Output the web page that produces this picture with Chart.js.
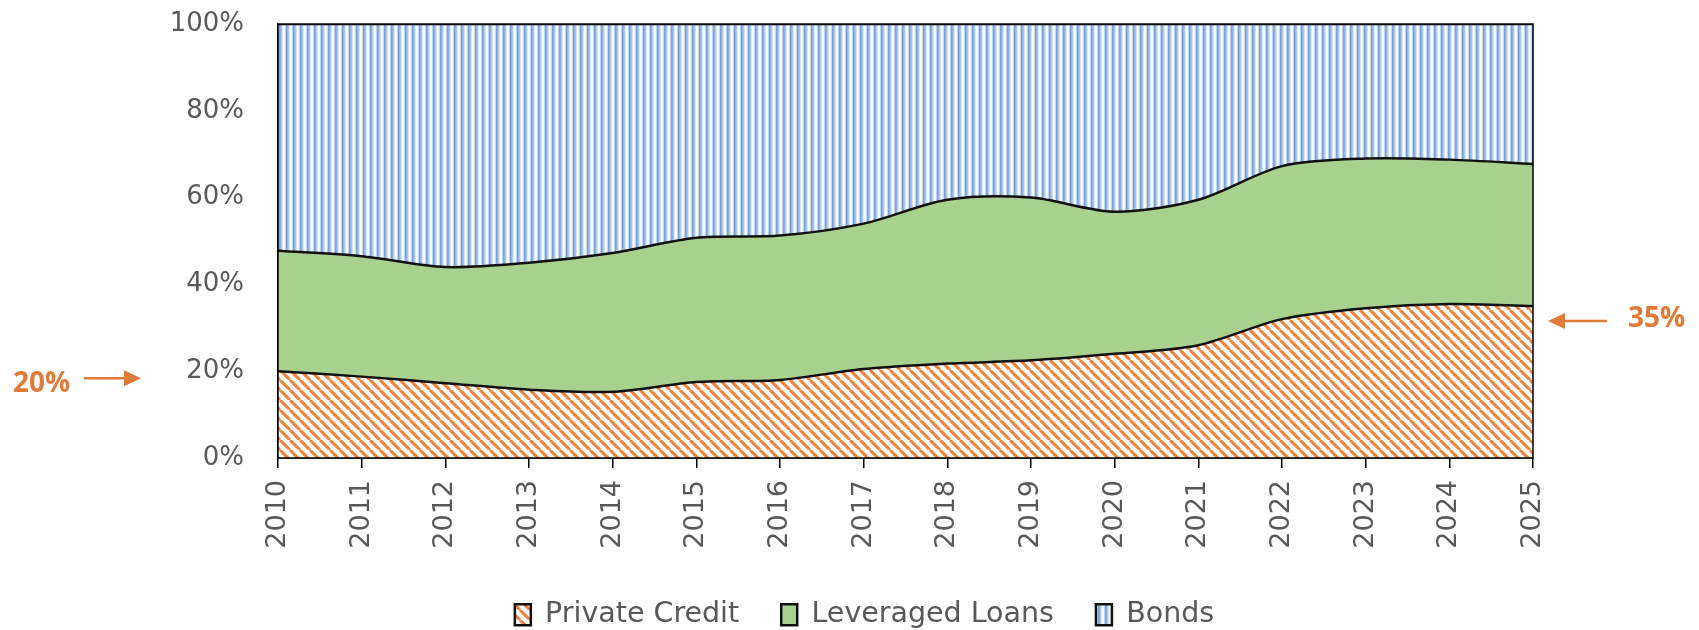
<!DOCTYPE html>
<html>
<head>
<meta charset="utf-8">
<script src="https://cdn.jsdelivr.net/npm/chart.js@4/dist/chart.umd.min.js"></script>
<style>
  html, body { margin: 0; padding: 0; background: #fff; }
  #wrap { width: 1699px; height: 630px; }
</style>
</head>
<body>
<div id="wrap"><canvas id="mixChart" width="1699" height="630"></canvas></div>
<script>
// share of each segment, per year (percent, stacked to 100)
const years = ['2010','2011','2012','2013','2014','2015','2016','2017','2018','2019','2020','2021','2022','2023','2024','2025'];
const privateCredit  = [20, 18.75, 17.25, 15.75, 15.25, 17.5, 18, 20.5, 21.75, 22.5, 24, 26, 32, 34.5, 35.5, 35];
const leveragedLoans = [27.75, 27.75, 26.75, 29.25, 32, 33.25, 33.25, 33.5, 37.75, 37.5, 32.75, 33.5, 35.25, 34.5, 33.25, 32.75];
const bonds          = [52.25, 53.5, 56, 55, 52.75, 49.25, 48.75, 46, 40.5, 40, 43.25, 40.5, 32.75, 31, 31.25, 32.25];
const yTicks = [0, 20, 40, 60, 80, 100];

const orange = '#E07B39';
const axisGrey = '#595959';

function makePattern(w, h, paint) {
  const c = document.createElement('canvas');
  c.width = w; c.height = h;
  const g = c.getContext('2d');
  paint(g, w, h);
  return g.createPattern(c, 'repeat');
}

// orange "\" hatching on white
const hatch = makePattern(10, 10, (g, w, h) => {
  g.fillStyle = '#fff';
  g.fillRect(0, 0, w, h);
  g.strokeStyle = '#EE8640';
  g.lineWidth = 3.1;
  for (const x0 of [-w, 0, w]) {
    g.beginPath();
    g.moveTo(x0, 0);
    g.lineTo(x0 + w, h);
    g.stroke();
  }
});

// vertical blue stripes
const stripes = makePattern(7, 1, (g) => {
  const cols = ['#8FB4E3', '#A9CBEE', '#D6E7F9', '#FFFFFF', '#F5F9FE', '#C0D9F3', '#7FA3D0'];
  cols.forEach((c, i) => { g.fillStyle = c; g.fillRect(i, 0, 1, 1); });
});

const frame = {
  id: 'frame',
  afterInit(chart) {
    // pull the legend row a little lower
    const lg = chart.legend;
    if (lg && !lg._shifted) {
      const fit = lg.fit;
      lg.fit = function () { fit.call(this); this.height -= 9; };
      lg._shifted = true;
    }
  },
  afterDatasetsDraw(chart) {
    const { ctx, chartArea: a } = chart;
    ctx.save();
    ctx.strokeStyle = '#000';
    ctx.lineWidth = 1.5;
    ctx.strokeRect(a.left, a.top, a.right - a.left, a.bottom - a.top);
    ctx.restore();
  }
};

// callouts for the first and last private credit share
const callouts = {
  id: 'callouts',
  afterDraw(chart) {
    const { ctx, chartArea: a } = chart;
    const y = chart.scales.y;
    const first = privateCredit[0];
    const last = privateCredit[privateCredit.length - 1];
    ctx.save();
    ctx.fillStyle = orange;
    ctx.strokeStyle = orange;
    ctx.lineWidth = 2.5;
    ctx.font = 'bold 28px "Open Sans"';
    ctx.textBaseline = 'middle';

    // left side
    const yl = y.getPixelForValue(first) + 7;
    ctx.textAlign = 'left';
    ctx.fillText(first + '%', 13, yl + 6);
    arrow(ctx, 84, 141, yl);

    // right side
    const yr = y.getPixelForValue(last) + 15;
    ctx.fillText(last + '%', a.right + 95, yr - 2);
    arrow(ctx, a.right + 74, a.right + 15, yr);
    ctx.restore();
  }
};

function arrow(ctx, x0, x1, y) {
  const dir = Math.sign(x1 - x0);
  const head = 17;
  ctx.beginPath();
  ctx.moveTo(x0, y);
  ctx.lineTo(x1 - dir * head, y);
  ctx.stroke();
  ctx.beginPath();
  ctx.moveTo(x1, y);
  ctx.lineTo(x1 - dir * head, y - 8);
  ctx.lineTo(x1 - dir * head, y + 8);
  ctx.closePath();
  ctx.fill();
}

const series = [
  { label: 'Private Credit', data: privateCredit, backgroundColor: hatch, fill: 'origin' },
  { label: 'Leveraged Loans', data: leveragedLoans, backgroundColor: '#A9D18E', fill: '-1' },
  { label: 'Bonds', data: bonds, backgroundColor: stripes, fill: '-1' }
];

new Chart(document.getElementById('mixChart'), {
  type: 'line',
  data: {
    labels: years,
    datasets: series.map(s => Object.assign({
      borderColor: '#111',
      borderWidth: 2.5,
      pointRadius: 0,
      tension: 0.3
    }, s))
  },
  options: {
    responsive: false,
    animation: false,
    events: [],
    layout: { padding: { top: 24, right: 0, left: 30, bottom: 0 } },
    plugins: {
      tooltip: { enabled: false },
      legend: {
        position: 'bottom',
        labels: {
          color: axisGrey,
          font: { family: 'DejaVu Sans', size: 28.5 },
          boxWidth: 16,
          boxHeight: 21,
          padding: 42
        }
      }
    },
    scales: {
      x: {
        grid: { drawOnChartArea: false, color: '#000', lineWidth: 1.5, tickLength: 10 },
        border: { color: '#000', width: 1.5 },
        ticks: {
          color: axisGrey,
          font: { family: 'DejaVu Sans', size: 27 },
          minRotation: 90,
          maxRotation: 90,
          autoSkip: false,
          padding: 12
        },
        afterFit(scale) { scale.height = 100.5; }
      },
      y: {
        stacked: true,
        min: 0,
        max: 100,
        // invisible tick marks push the labels away from the axis line
        grid: { drawOnChartArea: false, drawTicks: true, tickLength: 30, color: 'rgba(0,0,0,0)' },
        border: { color: '#000', width: 1.5 },
        afterBuildTicks(scale) { scale.ticks = yTicks.map(v => ({ value: v })); },
        ticks: {
          color: axisGrey,
          font: { family: 'DejaVu Sans', size: 26 },
          padding: 4,
          callback: v => v + '%'
        },
        afterFit(scale) { scale.width = 248; }
      },
      // empty margin on the right for the 35% callout
      gutter: {
        position: 'right',
        grid: { display: false },
        border: { display: false },
        ticks: { display: false },
        afterFit(scale) { scale.width = 166; }
      }
    }
  },
  plugins: [frame, callouts]
});
</script>
</body>
</html>
